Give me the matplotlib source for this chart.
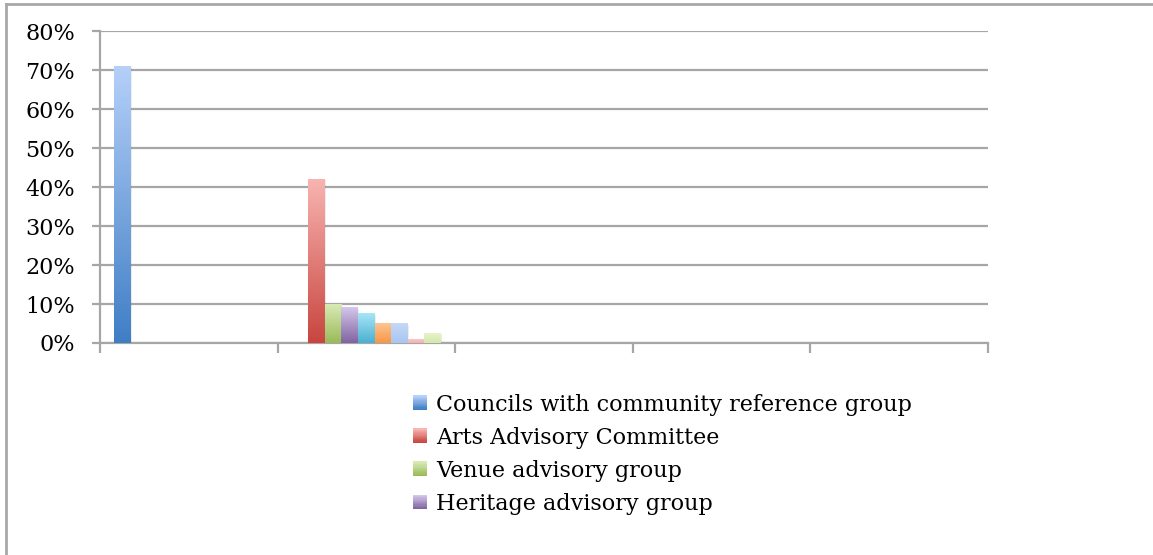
import numpy as np
import matplotlib
matplotlib.use("Agg")
import matplotlib.pyplot as plt
from matplotlib.colors import LinearSegmentedColormap
from matplotlib.patches import Patch, Rectangle
from matplotlib.legend_handler import HandlerBase
from matplotlib.ticker import PercentFormatter

# five (unlabelled) categories along x
categories = ["", "", "", "", ""]

# share of councils per advisory arrangement
councils = [0.71, 0, 0, 0, 0]
arts = [0, 0.42, 0, 0, 0]
venue = [0, 0.10, 0, 0, 0]
heritage = [0, 0.09, 0, 0, 0]
series5 = [0, 0.075, 0, 0, 0]
series6 = [0, 0.05, 0, 0, 0]
series7 = [0, 0.05, 0, 0, 0]
series8 = [0, 0.01, 0, 0, 0]
series9 = [0, 0.025, 0, 0, 0]

legend_names = ["Councils with community reference group",
                "Arts Advisory Committee",
                "Venue advisory group",
                "Heritage advisory group"]

all_series = [councils, arts, venue, heritage, series5,
              series6, series7, series8, series9]

# (top colour, bottom colour) for each series' gradient fill
gradients = [("#B5D0F9", "#3F7EC5"),
             ("#F8B4B1", "#C9453F"),
             ("#D8EAB4", "#9ABA58"),
             ("#D4C7EA", "#8063A1"),
             ("#A8E5F8", "#4AAFD0"),
             ("#FDC593", "#F79646"),
             ("#C4D9F7", "#A9C6F0"),
             ("#F9C6C4", "#F5B2AF"),
             ("#E6F3CB", "#D3E8A9")]


class GradientHandler(HandlerBase):
    """Legend key drawn as a small vertical gradient square."""

    def create_artists(self, legend, orig_handle, xdescent, ydescent,
                       width, height, fontsize, trans):
        top, bottom = orig_handle.grad
        cmap = LinearSegmentedColormap.from_list("lg", [bottom, top])
        steps = 12
        side = height
        x0 = -xdescent + (width - side) / 2
        arts_ = []
        for k in range(steps):
            r = Rectangle((x0, -ydescent + k * side / steps), side, side / steps + 0.3,
                          facecolor=cmap(k / (steps - 1)), edgecolor="none",
                          transform=trans)
            arts_.append(r)
        return arts_


fig = plt.figure(figsize=(11.53, 5.55), dpi=100)
ax = fig.add_axes([0.0867, 0.382, 0.770, 0.562])

n = len(all_series)
gap = 0.079
width = (1 - 2 * gap) / n
grad = np.linspace(0, 1, 256).reshape(-1, 1)

for i, vals in enumerate(all_series):
    top, bottom = gradients[i]
    cmap = LinearSegmentedColormap.from_list(f"g{i}", [bottom, top])
    for c, v in enumerate(vals):
        if v <= 0:
            continue
        x0 = c + gap + i * width
        # soft drop shadow
        ax.add_patch(Rectangle((x0 + 0.006, 0), width, v - 0.003,
                               color="#000000", alpha=0.07, lw=0, zorder=2.5))
        ax.imshow(grad, extent=[x0, x0 + width, 0, v], origin="lower",
                  aspect="auto", cmap=cmap, zorder=3, interpolation="bilinear")

ax.set_xlim(0, len(categories))
ax.set_ylim(0, 0.8)
ax.set_yticks(np.arange(0, 0.81, 0.1))
ax.yaxis.set_major_formatter(PercentFormatter(1.0, decimals=0))
ax.set_xticks(np.arange(0, len(categories) + 1))
ax.set_xticklabels([""] * (len(categories) + 1))

grid_col = "#A6A6A6"
ax.grid(axis="y", color=grid_col, lw=1.6, zorder=1)
ax.set_axisbelow(True)
for side in ["top", "right"]:
    ax.spines[side].set_visible(False)
for side in ["left", "bottom"]:
    ax.spines[side].set_color(grid_col)
    ax.spines[side].set_linewidth(1.6)
ax.tick_params(axis="y", length=6, width=1.6, color=grid_col, pad=12,
               labelsize=16, labelcolor="black")
ax.tick_params(axis="x", length=7, width=1.6, color=grid_col)
for lab in ax.get_yticklabels():
    lab.set_family("DejaVu Serif")

handles = []
for i in range(4):
    h = Patch()
    h.grad = gradients[i]
    handles.append(h)
fig.legend(handles, legend_names, loc="upper left", bbox_to_anchor=(0.351, 0.307),
           frameon=False, prop={"family": "DejaVu Serif", "size": 16},
           handler_map={Patch: GradientHandler()},
           handlelength=0.55, handleheight=0.6, handletextpad=0.45,
           labelspacing=0.5, borderaxespad=0)

# outer chart frame (left and top edges)
fig.add_artist(plt.Line2D([0.0052, 0.0052], [0, 0.993], color="#A8A8A8", lw=2,
                          transform=fig.transFigure))
fig.add_artist(plt.Line2D([0.0052, 1], [0.993, 0.993], color="#A8A8A8", lw=2,
                          transform=fig.transFigure))

fig.savefig("out.png", dpi=100)
